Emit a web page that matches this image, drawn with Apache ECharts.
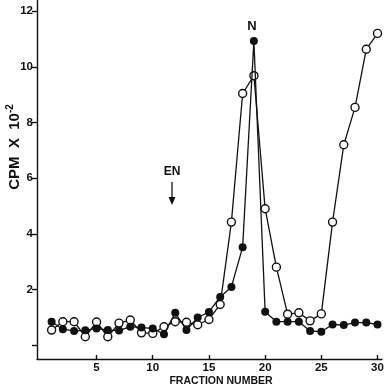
<!DOCTYPE html>
<html>
<head>
<meta charset="utf-8">
<script src="https://cdn.jsdelivr.net/npm/echarts@6/dist/echarts.min.js"></script>
<style>html,body{margin:0;padding:0;background:#fff}#c{width:386px;height:390px}</style>
</head>
<body>
<div id="c"></div>
<script>
var fractions = [1,2,3,4,5,6,7,8,9,10,11,12,13,14,15,16,17,18,19,20,21,22,23,24,25,26,27,28,29,30];
var closedCpm = [0.84,0.57,0.51,0.53,0.6,0.54,0.52,0.66,0.63,0.6,0.39,1.16,0.54,0.99,1.19,1.73,2.09,3.52,10.93,1.2,0.84,0.84,0.84,0.51,0.48,0.74,0.72,0.81,0.81,0.74];
var openCpm = [0.54,0.84,0.84,0.3,0.83,0.3,0.79,0.9,0.44,0.42,0.66,0.84,0.82,0.73,0.92,1.46,4.42,9.04,9.68,4.9,2.8,1.11,1.16,0.87,1.12,4.42,7.2,8.54,10.63,11.2];
var xTicks = [5,10,15,20,25,30];
var yTickMarks = [0,2,4,6,8,10,12];
var yTickLabels = [2,4,6,8,10,12];

function pairs(xs, ys){ return xs.map(function(x,i){ return [x, ys[i]]; }); }

var ink = '#111';
var font = '"Liberation Sans", Arial, sans-serif';
var chart = echarts.init(document.getElementById('c'));
chart.setOption({
  animation: false,
  backgroundColor: '#fff',
  grid: {left: 37, right: 4, top: 0, bottom: 31, containLabel: false, outerBoundsMode: 'none'},
  xAxis: {
    type: 'value', min: -0.3, max: 30.4,
    axisLine: {show: true, onZero: false, lineStyle: {color: ink, width: 1.4}},
    axisTick: {show: true, inside: true, length: 4, customValues: xTicks, lineStyle: {color: ink, width: 1.4}},
    axisLabel: {customValues: xTicks, color: ink, fontFamily: font, fontWeight: 'bold', fontSize: 11.5, margin: 3},
    splitLine: {show: false}
  },
  yAxis: {
    type: 'value', min: -0.5, max: 12.4,
    axisLine: {show: true, onZero: false, lineStyle: {color: ink, width: 1.4}},
    axisTick: {show: true, inside: false, length: 5, customValues: yTickMarks, lineStyle: {color: ink, width: 1.4}},
    axisLabel: {customValues: yTickLabels, color: ink, fontFamily: font, fontWeight: 'bold', fontSize: 11.5, margin: 4},
    splitLine: {show: false}
  },
  series: [
    {
      type: 'line', name: 'open', data: pairs(fractions, openCpm),
      symbol: 'circle', symbolSize: 8,
      lineStyle: {color: ink, width: 1.3},
      itemStyle: {color: '#fff', borderColor: ink, borderWidth: 1.4},
      z: 2
    },
    {
      type: 'line', name: 'closed', data: pairs(fractions, closedCpm),
      symbol: 'circle', symbolSize: 8,
      lineStyle: {color: ink, width: 1.3},
      itemStyle: {color: ink, borderColor: ink, borderWidth: 0},
      z: 3
    }
  ],
  graphic: [
    {type: 'text', x: 15, y: 147, rotation: Math.PI/2,
     style: {text: 'CPM  X  10{s|-2}', fill: ink, font: 'bold 15px ' + font, align: 'center', verticalAlign: 'middle',
       rich: {s: {font: 'bold 10px ' + font, fill: ink, verticalAlign: 'top', padding: [0,0,9,0]}}}},
    {type: 'text', x: 221, y: 381, style: {text: 'FRACTION NUMBER', fill: ink, font: 'bold 10.5px ' + font, align: 'center', verticalAlign: 'middle'}},
    {type: 'text', x: 252, y: 26, style: {text: 'N', fill: ink, font: 'bold 13px ' + font, align: 'center', verticalAlign: 'middle'}},
    {type: 'text', x: 172, y: 172, style: {text: 'EN', fill: ink, font: 'bold 12px ' + font, align: 'center', verticalAlign: 'middle'}},
    {type: 'line', shape: {x1: 172, y1: 182, x2: 172, y2: 202}, style: {stroke: ink, lineWidth: 1.3}},
    {type: 'polygon', shape: {points: [[168.5,197],[175.5,197],[172,205]]}, style: {fill: ink}}
  ]
});
</script>
</body>
</html>
